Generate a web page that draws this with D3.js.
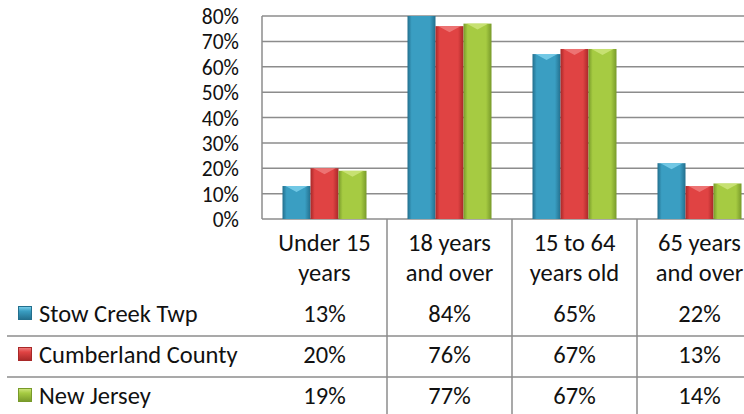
<!DOCTYPE html>
<head>
<meta charset="UTF-8">
<style>
body { margin: 0; background: #fff; }
svg { display: block; font-family: Carlito, Calibri, Lato, sans-serif; }
.grid line { stroke: #8c8c8c; stroke-width: 1.5; }
.tbl { stroke: #8c8c8c; stroke-width: 1.5; }
</style>
</head>
<body>
<svg width="744" height="414"></svg>
<script src="https://d3js.org/d3.v7.min.js"></script>
<script>
// data
var categories = [["Under 15", "years"], ["18 years", "and over"], ["15 to 64", "years old"], ["65 years", "and over"]];
var seriesNames = ["Stow Creek Twp", "Cumberland County", "New Jersey"];
var stowCreek = [0.13, 0.84, 0.65, 0.22];
var cumberland = [0.20, 0.76, 0.67, 0.13];
var newJersey = [0.19, 0.77, 0.67, 0.14];
var yTicks = [0, 0.1, 0.2, 0.3, 0.4, 0.5, 0.6, 0.7, 0.8];

var values = [stowCreek, cumberland, newJersey];
var colors = [
    { mid: "#3a9ec2", edge: "#236f8d", top: "#7fd2ee" },
    { mid: "#e04343", edge: "#a82828", top: "#f08080" },
    { mid: "#a6cb42", edge: "#789a2a", top: "#cfe67e" }
];

var svg = d3.select("svg");
var plotLeft = 262, plotRight = 762, plotTop = 16, plotBottom = 219;
var rowTops = [295, 336, 377];
var fs = 24.5;

var x = d3.scaleBand()
    .domain(d3.range(categories.length))
    .range([plotLeft, plotRight]);

var xs = d3.scaleBand()
    .domain(d3.range(seriesNames.length))
    .range([20.5, x.bandwidth() - 20.5]);

var y = d3.scaleLinear()
    .domain([0, 0.8])
    .range([plotBottom, plotTop]);

var defs = svg.append("defs");
colors.forEach(function(c, i) {
    var g = defs.append("linearGradient")
        .attr("id", "grad" + i)
        .attr("x1", 0).attr("x2", 1).attr("y1", 0).attr("y2", 0);
    g.append("stop").attr("offset", "0%").attr("stop-color", c.edge);
    g.append("stop").attr("offset", "15%").attr("stop-color", c.mid);
    g.append("stop").attr("offset", "80%").attr("stop-color", c.mid);
    g.append("stop").attr("offset", "100%").attr("stop-color", c.edge);
    var k = defs.append("linearGradient")
        .attr("id", "key" + i)
        .attr("x1", 0).attr("x2", 0).attr("y1", 0).attr("y2", 1);
    k.append("stop").attr("offset", "0%").attr("stop-color", c.top);
    k.append("stop").attr("offset", "35%").attr("stop-color", c.mid);
    k.append("stop").attr("offset", "100%").attr("stop-color", c.edge);
});
defs.append("clipPath").attr("id", "plotclip")
    .append("rect")
    .attr("x", plotLeft).attr("y", plotTop)
    .attr("width", plotRight - plotLeft).attr("height", plotBottom - plotTop);

// gridlines
svg.append("g")
    .attr("class", "grid")
    .selectAll("line")
    .data(yTicks)
    .enter().append("line")
    .attr("x1", plotLeft).attr("x2", plotRight)
    .attr("y1", function(d) { return y(d); })
    .attr("y2", function(d) { return y(d); });

// y axis labels
svg.append("g")
    .selectAll("text")
    .data(yTicks)
    .enter().append("text")
    .attr("x", 239)
    .attr("y", function(d) { return y(d) + 8; })
    .attr("text-anchor", "end")
    .attr("font-size", 21.5)
    .attr("fill", "#111")
    .text(function(d) { return d3.format(".0%")(d); });

// bars
var bars = svg.append("g").attr("clip-path", "url(#plotclip)");
values.forEach(function(vals, si) {
    var gs = bars.append("g");
    gs.selectAll("rect")
        .data(vals)
        .enter().append("rect")
        .attr("x", function(d, i) { return x(i) + xs(si); })
        .attr("y", function(d) { return y(d); })
        .attr("width", xs.bandwidth())
        .attr("height", function(d) { return plotBottom - y(d); })
        .attr("fill", "url(#grad" + si + ")");
    // light cap on top of each bar
    gs.selectAll("path")
        .data(vals)
        .enter().append("path")
        .attr("d", function(d, i) {
            var x0 = x(i) + xs(si), w = xs.bandwidth(), t = y(d);
            return "M" + (x0 + 3) + "," + t + "L" + (x0 + w - 3) + "," + t +
                "L" + (x0 + w / 2) + "," + (t + 6) + "Z";
        })
        .attr("fill", colors[si].top)
        .attr("opacity", 0.8);
});

// axis line
svg.append("line").attr("class", "tbl")
    .attr("x1", plotLeft).attr("x2", plotLeft)
    .attr("y1", plotTop).attr("y2", plotBottom);

// data table lines
svg.append("g")
    .selectAll("line")
    .data(d3.range(1, categories.length + 1))
    .enter().append("line")
    .attr("class", "tbl")
    .attr("x1", function(d) { return plotLeft + d * x.bandwidth(); })
    .attr("x2", function(d) { return plotLeft + d * x.bandwidth(); })
    .attr("y1", plotBottom).attr("y2", 414);
svg.append("g")
    .selectAll("line")
    .data([rowTops[1], rowTops[2]])
    .enter().append("line")
    .attr("class", "tbl")
    .attr("x1", 7).attr("x2", plotRight)
    .attr("y1", function(d) { return d; })
    .attr("y2", function(d) { return d; });

// header text, two lines per category
[0, 1].forEach(function(line) {
    svg.append("g")
        .selectAll("text")
        .data(categories)
        .enter().append("text")
        .attr("x", function(d, i) { return x(i) + x.bandwidth() / 2; })
        .attr("y", line === 0 ? 251 : 281)
        .attr("text-anchor", "middle")
        .attr("font-size", fs)
        .attr("fill", "#111")
        .text(function(d) { return d[line]; });
});

// rows
seriesNames.forEach(function(name, si) {
    var base = rowTops[si] + 27;
    svg.append("rect")
        .attr("x", 18.5).attr("y", base - 15.5)
        .attr("width", 13).attr("height", 13)
        .attr("fill", "url(#key" + si + ")")
        .attr("stroke", colors[si].edge)
        .attr("stroke-width", 1);
    svg.append("text")
        .attr("x", 39).attr("y", base)
        .attr("font-size", fs)
        .attr("fill", "#111")
        .text(name);
    svg.append("g")
        .selectAll("text")
        .data(values[si])
        .enter().append("text")
        .attr("x", function(d, i) { return x(i) + x.bandwidth() / 2; })
        .attr("y", base)
        .attr("text-anchor", "middle")
        .attr("font-size", fs)
        .attr("fill", "#111")
        .text(function(d) { return d3.format(".0%")(d); });
});
</script>
</body>
